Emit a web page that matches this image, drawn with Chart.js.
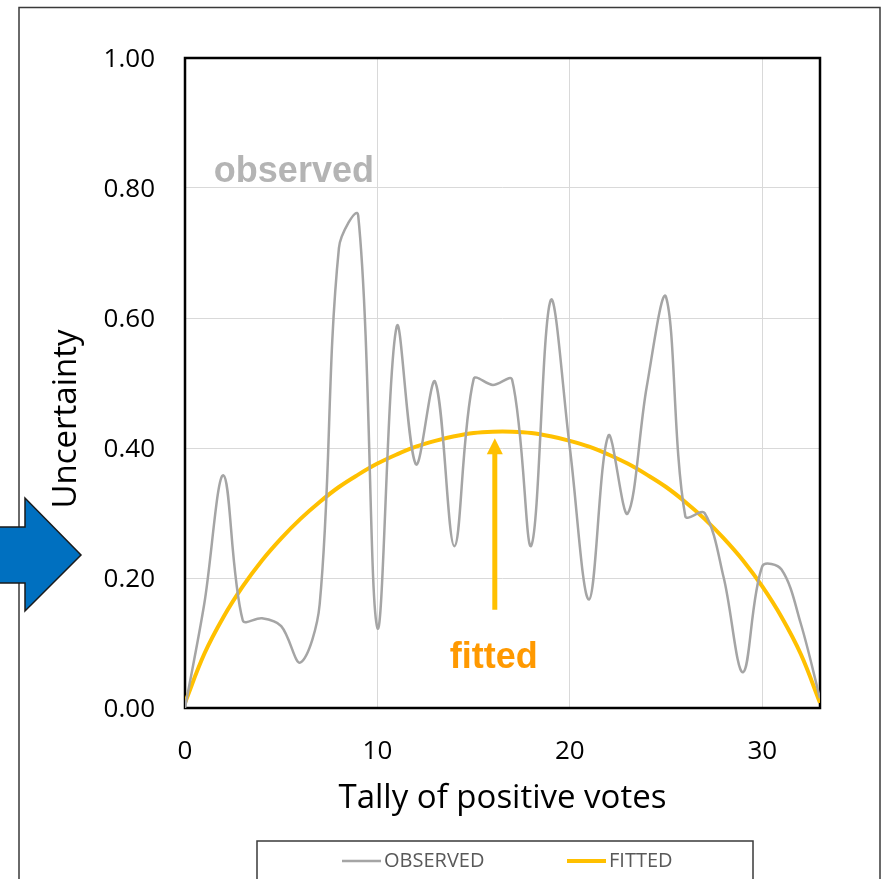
<!DOCTYPE html>
<html>
<head>
<meta charset="utf-8">
<title>Uncertainty vs tally of positive votes</title>
<script src="https://cdn.jsdelivr.net/npm/chart.js@4.4.1/dist/chart.umd.min.js"></script>
<style>
  html, body { margin: 0; padding: 0; background: #fff; overflow: hidden; }
  canvas { display: block; }
</style>
</head>
<body>
<canvas id="uncertaintyChart" width="885" height="879"></canvas>
<script>
// values
const tally = [0, 1, 2, 3, 4, 5, 6, 7, 8, 9, 10, 11, 12, 13, 14, 15, 16,
               17, 18, 19, 20, 21, 22, 23, 24, 25, 26, 27, 28, 29, 30, 31, 32, 33];
const observed = [0, 0.16, 0.358, 0.135, 0.138, 0.126, 0.07, 0.16, 0.708, 0.758, 0.123,
                  0.587, 0.375, 0.502, 0.249, 0.506, 0.497, 0.505, 0.25, 0.627, 0.40,
                  0.167, 0.419, 0.299, 0.495, 0.632, 0.295, 0.30, 0.20, 0.055, 0.218,
                  0.213, 0.13, 0.015];
const fitted = [0.008, 0.083, 0.140, 0.187, 0.227, 0.261, 0.291, 0.317, 0.340, 0.359, 0.376,
                0.390, 0.402, 0.411, 0.418, 0.423, 0.425, 0.425, 0.423, 0.418, 0.411,
                0.402, 0.390, 0.376, 0.359, 0.340, 0.317, 0.291, 0.261, 0.227, 0.187,
                0.140, 0.083, 0.008];
const seriesNames = ["OBSERVED", "FITTED"];
const xTicks = [0, 10, 20, 30];
const yTicks = [0, 0.2, 0.4, 0.6, 0.8, 1.0];

// where the notes sit, in data units
const observedNote = { x: 1.5, y: 0.81 };
const fittedNote = { x: 16.05, y: 0.062 };
const fittedArrow = { x: 16.1, from: 0.151, to: 0.415 };

const GREY = "#A5A5A5";
const GOLD = "#FFC000";
const FONT = "'Open Sans', 'Noto Sans', sans-serif";

// frame, plot border, notes, legend, axis title, blue arrow
const slideBits = {
    id: "slideBits",
    beforeDraw(chart) {
        const ctx = chart.ctx;
        ctx.save();
        ctx.fillStyle = "#fff";
        ctx.fillRect(0, 0, chart.width, chart.height);
        ctx.strokeStyle = "#3a3a3a";
        ctx.lineWidth = 1.5;
        ctx.strokeRect(19, 7.5, 861, 900); // outer chart box
        ctx.restore();
    },
    beforeDatasetsDraw(chart) {
        const { ctx, chartArea: a } = chart;
        ctx.save();
        ctx.strokeStyle = "#000";
        ctx.lineWidth = 2.5;
        ctx.strokeRect(a.left, a.top, a.right - a.left, a.bottom - a.top);
        ctx.restore();
    },
    afterDatasetsDraw(chart) {
        const { ctx, scales: { x, y } } = chart;
        ctx.save();
        // "observed" note
        ctx.font = "bold 36px 'Liberation Sans', Arial, sans-serif";
        ctx.fillStyle = "#B4B4B4";
        ctx.textAlign = "left";
        ctx.textBaseline = "alphabetic";
        ctx.fillText("observed", x.getPixelForValue(observedNote.x), y.getPixelForValue(observedNote.y));
        // "fitted" note
        ctx.fillStyle = "#FF9900";
        ctx.textAlign = "center";
        ctx.fillText("fitted", x.getPixelForValue(fittedNote.x), y.getPixelForValue(fittedNote.y));
        // arrow up to the fitted curve
        const ax = x.getPixelForValue(fittedArrow.x);
        const y0 = y.getPixelForValue(fittedArrow.from);
        const y1 = y.getPixelForValue(fittedArrow.to);
        ctx.strokeStyle = GOLD;
        ctx.fillStyle = GOLD;
        ctx.lineWidth = 5;
        ctx.beginPath();
        ctx.moveTo(ax, y0);
        ctx.lineTo(ax, y1 + 14);
        ctx.stroke();
        ctx.beginPath();
        ctx.moveTo(ax, y1);
        ctx.lineTo(ax - 8, y1 + 16);
        ctx.lineTo(ax + 8, y1 + 16);
        ctx.closePath();
        ctx.fill();
        ctx.restore();
    },
    afterDraw(chart) {
        const ctx = chart.ctx;
        ctx.save();

        // y axis title, sits a bit below the middle of the plot
        ctx.translate(67, 419);
        ctx.rotate(-Math.PI / 2);
        ctx.font = "33px " + FONT;
        ctx.fillStyle = "#000";
        ctx.textAlign = "center";
        ctx.textBaseline = "middle";
        ctx.fillText("Uncertainty", 0, 0);
        ctx.setTransform(1, 0, 0, 1, 0, 0);

        // legend box
        ctx.strokeStyle = "#3a3a3a";
        ctx.lineWidth = 1.5;
        ctx.strokeRect(257, 841, 496, 80);
        const items = [{ x: 342 }, { x: 567 }];
        ctx.font = "20px " + FONT;
        ctx.textAlign = "left";
        ctx.textBaseline = "middle";
        chart.data.datasets.forEach((ds, i) => {
            const lx = items[i].x;
            ctx.strokeStyle = ds.borderColor;
            ctx.lineWidth = ds.borderWidth;
            ctx.beginPath();
            ctx.moveTo(lx, 861);
            ctx.lineTo(lx + 39, 861);
            ctx.stroke();
            ctx.fillStyle = "#595959";
            ctx.fillText(ds.label, lx + 42, 861.5);
        });

        // big blue arrow from the slide, pointing at the chart
        ctx.fillStyle = "#0070C0";
        ctx.strokeStyle = "#1a1a1a";
        ctx.lineWidth = 1.5;
        ctx.beginPath();
        ctx.moveTo(-5, 527);
        ctx.lineTo(25, 527);
        ctx.lineTo(25, 498);
        ctx.lineTo(81, 555);
        ctx.lineTo(25, 611);
        ctx.lineTo(25, 583);
        ctx.lineTo(-5, 583);
        ctx.closePath();
        ctx.fill();
        ctx.stroke();
        ctx.restore();
    }
};

const chart = new Chart(document.getElementById("uncertaintyChart"), {
    type: "line",
    data: {
        datasets: [
            {
                label: seriesNames[0],
                data: tally.map((t, i) => ({ x: t, y: observed[i] })),
                borderColor: GREY,
                borderWidth: 2.5,
                pointRadius: 0,
                tension: 0.35,
                fill: false
            },
            {
                label: seriesNames[1],
                data: tally.map((t, i) => ({ x: t, y: fitted[i] })),
                borderColor: GOLD,
                borderWidth: 4,
                pointRadius: 0,
                tension: 0.4,
                fill: false
            }
        ]
    },
    options: {
        responsive: false,
        animation: false,
        devicePixelRatio: 1,
        layout: { padding: { top: 58, right: 65, bottom: 61, left: 0 } },
        plugins: {
            legend: { display: false },
            tooltip: { enabled: false }
        },
        scales: {
            x: {
                type: "linear",
                min: 0,
                max: 33,
                afterBuildTicks: s => { s.ticks = xTicks.map(v => ({ value: v })); },
                afterFit: s => { s.height = 110; },
                grid: { color: "#D9D9D9", lineWidth: 1, drawTicks: false },
                border: { display: false },
                ticks: {
                    padding: 28,
                    color: "#000",
                    font: { family: FONT, size: 26 },
                    maxRotation: 0
                },
                title: {
                    display: true,
                    text: "Tally of positive votes",
                    color: "#000",
                    font: { family: FONT, size: 33 },
                    padding: 0
                }
            },
            y: {
                min: 0,
                max: 1,
                afterBuildTicks: s => { s.ticks = yTicks.map(v => ({ value: v })); },
                afterFit: s => { s.width = 185; },
                grid: { color: "#D9D9D9", lineWidth: 1, drawTicks: false },
                border: { display: false },
                ticks: {
                    padding: 30,
                    labelOffset: 2,
                    color: "#000",
                    font: { family: FONT, size: 26 },
                    callback: v => v.toFixed(2)
                }
            }
        }
    },
    plugins: [slideBits]
});
</script>
</body>
</html>
